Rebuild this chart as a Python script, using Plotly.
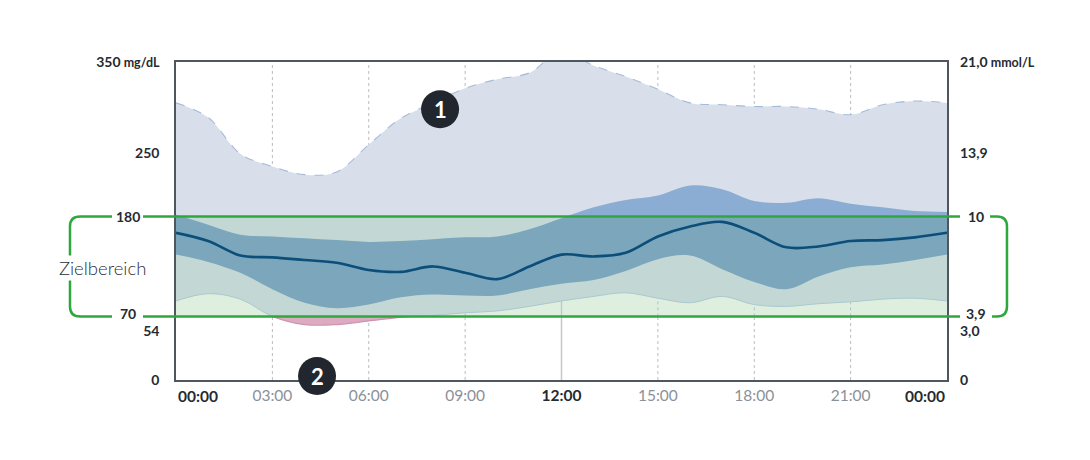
import plotly.graph_objects as go

# hour of day (00:00 .. 24:00), glucose percentiles in mg/dL
hours = list(range(25))
p5 = [87, 95, 89, 70, 61, 61, 65, 69, 71, 74, 76, 81, 87, 92, 96, 90, 85, 92, 83, 81, 84, 86, 89, 90, 87]
p25 = [138, 130, 118, 100, 85, 79, 83, 91, 94, 93, 93, 100, 106, 110, 120, 133, 137, 122, 108, 100, 114, 124, 127, 132, 138]
median = [162, 153, 137, 135, 132, 129, 121, 119, 125, 118, 111, 125, 138, 136, 140, 158, 169, 174, 162, 146, 147, 153, 154, 157, 162]
p75 = [182, 171, 160, 158, 156, 154, 152, 153, 155, 157, 158, 166, 178, 190, 198, 203, 214, 210, 197, 195, 200, 194, 190, 186, 185]
p95 = [305, 289, 249, 235, 226, 229, 259, 288, 305, 321, 331, 338, 362, 346, 334, 320, 305, 303, 301, 301, 298, 292, 303, 307, 305]

x_ticks = [0, 3, 6, 9, 12, 15, 18, 21, 24]
x_labels = ["00:00", "03:00", "06:00", "09:00", "12:00", "15:00", "18:00", "21:00", "00:00"]
x_strong = [True, False, False, False, True, False, False, False, True]

mg_ticks = [0, 54, 250, 350]
mg_labels = ["0", "54", "250", "350 mg/dL"]
mmol_labels = ["0", "3,0", "13,9", "21,0 mmol/L"]

target = [70, 180]
target_mg = ["70", "180"]
target_mmol = ["3,9", "10"]

# numbered callouts (hour, mg/dL)
callouts = [("1", 8.22, 298), ("2", 4.39, 4.4)]

Y_MAX = 350
LAVENDER = "#d8dfeb"
BLUE = "#8badd3"
TARGET_BG = "#dfefdf"
TARGET_LAV = "#c3d8d4"
TARGET_BLUE = "#7ba6bc"
PINK = "#dcaac1"
MEDIAN = "#0c4e7a"
GREEN = "#2ea83c"
AXIS = "#50565e"
TEXT = "#262a31"
GREY_TEXT = "#8b9198"


def band(lo, hi, color, yaxis, hi_line=None, lo_line=None):
    fig.add_trace(go.Scatter(
        x=hours, y=lo, yaxis=yaxis, mode="lines",
        line=lo_line or dict(width=0), line_shape="spline",
        hoverinfo="skip", showlegend=False))
    fig.add_trace(go.Scatter(
        x=hours, y=hi, yaxis=yaxis, mode="lines", fill="tonexty", fillcolor=color,
        line=hi_line or dict(width=0), line_shape="spline",
        hoverinfo="skip", showlegend=False))


def unit_label(text, unit):
    if unit in text:
        num = text.replace(" " + unit, "")
        return "<b>" + num + "</b><b style='font-size:12.5px'> " + unit + "</b>"
    return "<b>" + text + "</b>"


fig = go.Figure()

# full chart
band(p5, p95, LAVENDER, "y", hi_line=dict(color="#a6bbd8", width=1.1, dash="dash"))
band(p25, p75, BLUE, "y")

# part inside the target range (own axis so it is clipped to 70-180)
band(p5, p95, TARGET_LAV, "y3", lo_line=dict(color="#a9c8cf", width=1))
band(p25, p75, TARGET_BLUE, "y3")
fig.add_trace(go.Scatter(x=hours, y=median, yaxis="y3", mode="lines",
                         line=dict(color=MEDIAN, width=2.6, shape="spline"),
                         hoverinfo="skip", showlegend=False))

# part below 70 (pink)
band(p5, p95, PINK, "y4", lo_line=dict(color="#cf94b0", width=1.2))

# inner hour labels on the axis, the two 00:00 ends are aligned to the plot edges
inner_vals, inner_text = [], []
for v, lab, strong in zip(x_ticks[1:-1], x_labels[1:-1], x_strong[1:-1]):
    inner_vals.append(v)
    if strong:
        inner_text.append("<b>" + lab + "</b>")
    else:
        inner_text.append("<span style='color:" + GREY_TEXT + "'>" + lab + "</span>")

# page body has an 8px margin, so the figure is 8px smaller
fig.update_layout(
    width=1082, height=452,
    margin=dict(l=168, r=143, t=54, b=80),
    paper_bgcolor="white", plot_bgcolor="rgba(0,0,0,0)",
    showlegend=False,
    font=dict(family="Lato, sans-serif", color=TEXT, size=14),
    xaxis=dict(range=[0, 24], tickvals=inner_vals, ticktext=inner_text, showgrid=False,
               zeroline=False, showline=True, linecolor=AXIS, linewidth=1.5, mirror=True,
               ticks="", ticklabelstandoff=1, tickfont=dict(size=15.5, color=TEXT)),
    yaxis=dict(range=[0, Y_MAX], domain=[0, 1], tickvals=mg_ticks,
               ticktext=[unit_label(t, "mg/dL") for t in mg_labels],
               showgrid=False, zeroline=False, showline=True, linecolor=AXIS, linewidth=1.5,
               mirror=True, ticks="", ticklabelstandoff=12, tickfont=dict(size=14)),
    yaxis2=dict(range=[0, Y_MAX], overlaying="y", side="right", tickvals=mg_ticks,
                ticktext=[unit_label(t, "mmol/L") for t in mmol_labels],
                showgrid=False, zeroline=False, showline=False, ticks="", ticklabelstandoff=12,
                tickfont=dict(size=14)),
    yaxis3=dict(range=target, domain=[target[0] / Y_MAX, target[1] / Y_MAX], anchor="x", visible=False),
    yaxis4=dict(range=[0, target[0]], domain=[0, target[0] / Y_MAX], anchor="x", visible=False),
)

# keep right axis alive
fig.add_trace(go.Scatter(x=[None], y=[None], yaxis="y2", showlegend=False, hoverinfo="skip"))

for v, lab, side in [(x_ticks[0], x_labels[0], "left"), (x_ticks[-1], x_labels[-1], "right")]:
    fig.add_annotation(x=v, y=0, xref="x", yref="paper", text="<b>" + lab + "</b>",
                       xanchor=side, yanchor="middle", yshift=-16, showarrow=False,
                       font=dict(size=15.5, color=TEXT))

# vertical grid lines
for h in x_ticks[1:-1]:
    solid = h == 12
    style = dict(color="#c4c7cb", width=1.5) if solid else dict(color="#b8bdc3", width=1, dash="dot")
    fig.add_shape(type="line", xref="x", yref="y", x0=h, x1=h, y0=0, y1=Y_MAX, line=style, layer="below")
    fig.add_shape(type="line", xref="x", yref="y3", x0=h, x1=h, y0=target[0], y1=target[1], line=style, layer="between")

# target range background
fig.add_shape(type="rect", xref="x", yref="y3", x0=0, x1=24, y0=target[0], y1=target[1],
              fillcolor=TARGET_BG, line=dict(width=0), layer="below")

# target lines and bracket
for v, mg, mm in zip(target, target_mg, target_mmol):
    lift = 3 if v == target[0] else 0
    fig.add_shape(type="line", xref="paper", yref="y", x0=-0.0428, x1=1.0169, y0=v, y1=v,
                  line=dict(color=GREEN, width=2.5), layer="above")
    fig.add_annotation(x=-0.062, y=v, xref="paper", yref="y", text="<b>" + mg + "</b>",
                       xanchor="center", yshift=lift, showarrow=False, font=dict(size=14))
    fig.add_annotation(x=1.038, y=v, xref="paper", yref="y", text="<b>" + mm + "</b>",
                       xanchor="center", yshift=lift, showarrow=False, font=dict(size=14))

lo, hi = target
fig.add_shape(type="path", xref="paper", yref="y", layer="above",
              path=f"M -0.083,{hi} L -0.1245,{hi} Q -0.1375,{hi} -0.1375,{hi - 11} "
                   f"L -0.1375,{lo + 11} Q -0.1375,{lo} -0.1245,{lo} L -0.083,{lo}",
              line=dict(color=GREEN, width=2.5))
fig.add_shape(type="path", xref="paper", yref="y", layer="above",
              path=f"M 1.0558,{hi} L 1.0648,{hi} Q 1.0778,{hi} 1.0778,{hi - 11} "
                   f"L 1.0778,{lo + 11} Q 1.0778,{lo} 1.0648,{lo} L 1.0584,{lo}",
              line=dict(color=GREEN, width=2.5))
fig.add_annotation(x=-0.0947, y=(lo + hi) / 2 - 2, xref="paper", yref="y", text="Zielbereich",
                   xanchor="center", showarrow=False, bgcolor="white",
                   font=dict(size=18.5, color="#2b2f36", weight=300))

# numbered callouts
for label, cx, cy in callouts:
    fig.add_shape(type="circle", xref="paper", yref="paper", xsizemode="pixel", ysizemode="pixel",
                  xanchor=cx / 24, yanchor=cy / Y_MAX, x0=-19, x1=19, y0=-19, y1=19,
                  fillcolor="#22272f", line=dict(width=0), layer="above")
    fig.add_annotation(x=cx, y=cy, xref="x", yref="y", text="<b>" + label + "</b>",
                       xanchor="center", showarrow=False, font=dict(size=22, color="white"))

fig.write_html("out.html")
